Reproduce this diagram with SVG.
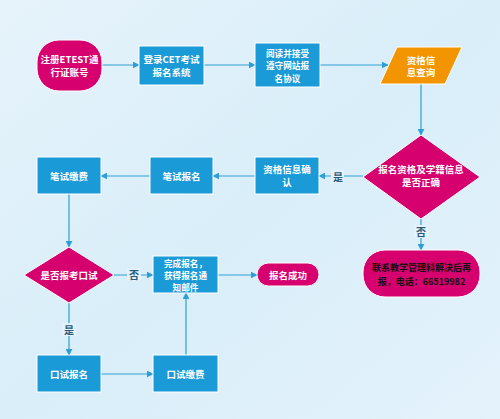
<svg xmlns="http://www.w3.org/2000/svg" width="500" height="419" viewBox="0 0 500 419">
<defs>
<linearGradient id="bg" x1="0" y1="0" x2="1" y2="1">
<stop offset="0" stop-color="#e6f3fb"/>
<stop offset="0.5" stop-color="#d9eef9"/>
<stop offset="1" stop-color="#e4f2fb"/>
</linearGradient>
<marker id="arr" viewBox="0 0 10 10" refX="9" refY="5" markerWidth="7" markerHeight="7" orient="auto" markerUnits="userSpaceOnUse">
<path d="M0,0 L10,5 L0,10 z" fill="#2e9fd3"/>
</marker>
<style>
.blue{fill:#1b9ad8;stroke:#ffffff;stroke-width:1}
.mag{fill:#d6006f;stroke:#ffffff;stroke-width:1}
.org{fill:#f29500;stroke:#ffffff;stroke-width:1}
.t{font-family:"Noto Sans CJK SC","Liberation Sans",sans-serif;font-size:9.5px;font-weight:bold;fill:#ffffff;text-anchor:middle;dominant-baseline:central}
.s{font-size:8.6px}
.k{fill:#111111;font-size:9px}
.lbl{font-family:"Noto Sans CJK SC","Liberation Sans",sans-serif;font-size:10px;font-weight:bold;fill:#2a5a78;text-anchor:middle;dominant-baseline:central}
.c{stroke:#2e9fd3;stroke-width:1.2;fill:none;marker-end:url(#arr)}
.lb{fill:#e4f2fb}
</style>
</defs>
<rect width="500" height="419" fill="url(#bg)"/>
<g id="connectors">
<line class="c" x1="102" y1="65" x2="139" y2="65"/>
<line class="c" x1="204" y1="65" x2="255" y2="65"/>
<line class="c" x1="320" y1="65" x2="388" y2="65"/>
<line class="c" x1="421" y1="84" x2="421" y2="135"/>
<line class="c" x1="363" y1="176" x2="319" y2="176"/>
<line class="c" x1="255" y1="176" x2="213" y2="176"/>
<line class="c" x1="150" y1="176" x2="101" y2="176"/>
<line class="c" x1="69" y1="194" x2="69" y2="247"/>
<line class="c" x1="114" y1="275" x2="153" y2="275"/>
<line class="c" x1="218" y1="275" x2="257" y2="275"/>
<line class="c" x1="69" y1="303" x2="69" y2="355"/>
<line class="c" x1="101" y1="374" x2="153" y2="374"/>
<line class="c" x1="186" y1="355" x2="186" y2="293"/>
<line class="c" x1="421" y1="219" x2="421" y2="250"/>
<rect class="lb" x="331" y="170" width="13" height="13"/>
<text class="lbl" x="338" y="176">是</text>
<rect class="lb" x="414" y="225" width="14" height="13"/>
<text class="lbl" x="421" y="231">否</text>
<rect class="lb" x="127" y="268" width="14" height="13"/>
<text class="lbl" x="134" y="274">否</text>
<rect class="lb" x="62" y="323" width="14" height="13"/>
<text class="lbl" x="69" y="329">是</text>
</g>
<g id="n1">
<rect class="mag" x="37" y="40" width="65" height="51" rx="22" ry="22"/>
<text class="t" x="69.5" y="59">注册ETEST通</text>
<text class="t" x="69.5" y="72">行证账号</text>
</g>
<g id="n2">
<rect class="blue" x="139" y="46" width="65" height="39"/>
<text class="t" x="171.5" y="59">登录CET考试</text>
<text class="t" x="171.5" y="72">报名系统</text>
</g>
<g id="n3">
<rect class="blue" x="255" y="43" width="65" height="44"/>
<text class="t s" x="287.5" y="52.5">阅读并接受</text>
<text class="t s" x="287.5" y="65">遵守网站报</text>
<text class="t s" x="287.5" y="77.5">名协议</text>
</g>
<g id="n4">
<polygon class="org" points="397,47 462,47 445,84 380,84"/>
<text class="t" x="421" y="59.5">资格信</text>
<text class="t" x="421" y="72">息查询</text>
</g>
<g id="n5">
<polygon class="mag" points="421,135 480,177 421,219 363,177"/>
<text class="t" x="421" y="169">报名资格及学籍信息</text>
<text class="t" x="421" y="182">是否正确</text>
</g>
<g id="n6">
<rect class="blue" x="255" y="157" width="64" height="37"/>
<text class="t" x="287" y="169">资格信息确</text>
<text class="t" x="287" y="182">认</text>
</g>
<g id="n7">
<rect class="blue" x="150" y="157" width="63" height="37"/>
<text class="t" x="181.5" y="175.5">笔试报名</text>
</g>
<g id="n8">
<rect class="blue" x="37" y="157" width="64" height="37"/>
<text class="t" x="69" y="175.5">笔试缴费</text>
</g>
<g id="n9">
<polygon class="mag" points="69,247 114,275 69,303 24,275"/>
<text class="t" x="69" y="275">是否报考口试</text>
</g>
<g id="n10">
<rect class="blue" x="153" y="256" width="65" height="37"/>
<text class="t s" x="185.5" y="262.5">完成报名，</text>
<text class="t s" x="185.5" y="274.5">获得报名通</text>
<text class="t s" x="185.5" y="286.5">知邮件</text>
</g>
<g id="n11">
<rect class="mag" x="257" y="263" width="62" height="23" rx="11.5" ry="11.5"/>
<text class="t" x="288" y="274.5">报名成功</text>
</g>
<g id="n12">
<rect class="mag" x="363" y="250" width="117" height="47" rx="22" ry="22"/>
<text class="t k" x="421.5" y="267">联系教学管理科解决后再</text>
<text class="t k" x="421.5" y="281">报，电话：66519982</text>
</g>
<g id="n13">
<rect class="blue" x="37" y="355" width="64" height="37"/>
<text class="t" x="69" y="373.5">口试报名</text>
</g>
<g id="n14">
<rect class="blue" x="153" y="355" width="65" height="37"/>
<text class="t" x="185.5" y="373.5">口试缴费</text>
</g>
</svg>
